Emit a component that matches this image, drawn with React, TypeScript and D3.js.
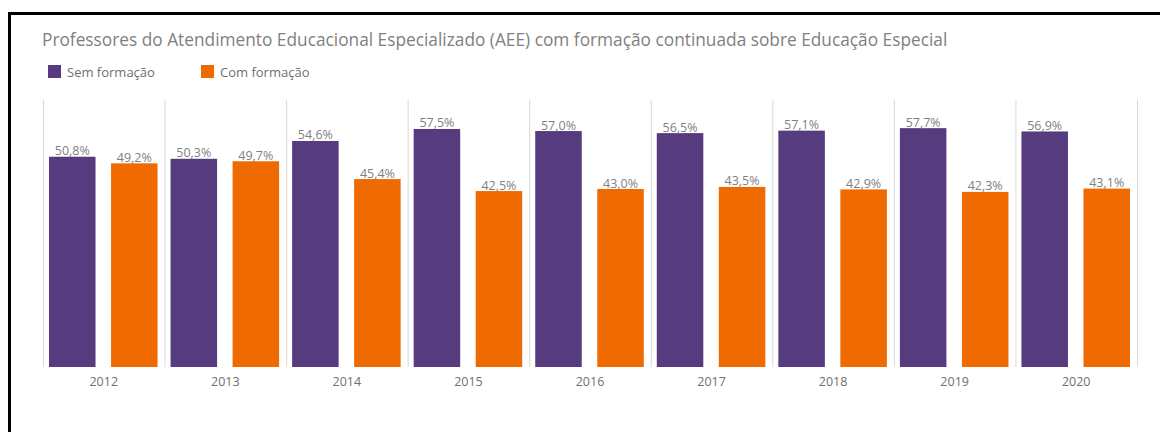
import * as d3 from 'd3';
import { useEffect, useRef } from 'react';

const years = ['2012', '2013', '2014', '2015', '2016', '2017', '2018', '2019', '2020'];
const semFormacao = [50.8, 50.3, 54.6, 57.5, 57.0, 56.5, 57.1, 57.7, 56.9];
const comFormacao = [49.2, 49.7, 45.4, 42.5, 43.0, 43.5, 42.9, 42.3, 43.1];
const seriesNames = ['Sem formação', 'Com formação'];
const colors = ['#563c7e', '#ef6a00'];
const title = 'Professores do Atendimento Educacional Especializado (AEE) com formação continuada sobre Educação Especial';

const width = 1160, height = 432;
const font = "'Open Sans', 'DejaVu Sans', sans-serif";

const App = () => {
  const svgRef = useRef<SVGSVGElement>(null);

  useEffect(() => {
    const svg = d3.select(svgRef.current);
    svg.selectAll('*').remove();

    svg.append('rect').attr('width', width).attr('height', height).attr('fill', '#fff');
    // black frame (cut off at right/bottom)
    svg.append('rect').attr('x', 9.5).attr('y', 13.5).attr('width', 1200).attr('height', 500)
      .attr('fill', 'none').attr('stroke', '#000').attr('stroke-width', 3);

    svg.append('text').attr('x', 42).attr('y', 46).attr('fill', '#7f7f7f')
      .style('font-family', font).style('font-size', '17.3px').text(title);

    // legend
    const legendX = [48, 201];
    seriesNames.forEach((n, i) => {
      svg.append('rect').attr('x', legendX[i]).attr('y', 65).attr('width', 13).attr('height', 13).attr('fill', colors[i]);
      svg.append('text').attr('x', legendX[i] + 19).attr('y', 76.5).attr('fill', '#6f6f6f')
        .style('font-family', font).style('font-size', '13px').text(n);
    });

    const x0 = d3.scaleBand().domain(years).range([43, 1137]).paddingInner(0).paddingOuter(0);
    const x1 = d3.scaleBand().domain(['0', '1']).range([6, x0.bandwidth() - 7]).paddingInner(0.25).paddingOuter(0);
    const y = d3.scaleLinear().domain([0, 64.5]).range([367, 100]);

    // separators
    const seps = years.map(d => x0(d)!).concat([x0.range()[1]]);
    svg.append('g').selectAll('line').data(seps).join('line')
      .attr('x1', d => d + 0.5).attr('x2', d => d + 0.5).attr('y1', 100).attr('y2', 367)
      .attr('stroke', '#d9d9d9').attr('stroke-width', 1);

    const fmt = (v: number) => v.toFixed(1).replace('.', ',') + '%';

    years.forEach((yr, i) => {
      [semFormacao[i], comFormacao[i]].forEach((v, s) => {
        const bx = x0(yr)! + x1(String(s))!;
        svg.append('rect').attr('x', bx).attr('y', y(v)).attr('width', x1.bandwidth())
          .attr('height', y(0) - y(v)).attr('fill', colors[s]);
        svg.append('text').attr('x', bx + x1.bandwidth() / 2).attr('y', y(v) - 1.5)
          .attr('text-anchor', 'middle').attr('fill', '#7f7f7f')
          .style('font-family', font).style('font-size', '12.5px').text(fmt(v));
      });
      svg.append('text').attr('x', x0(yr)! + x0.bandwidth() / 2).attr('y', 386)
        .attr('text-anchor', 'middle').attr('fill', '#6f6f6f')
        .style('font-family', font).style('font-size', '12.5px').text(yr);
    });
  }, []);

  return (
    <svg ref={svgRef} width={width} height={height}
      style={{ position: 'absolute', left: 0, top: 0, display: 'block' }}></svg>
  );
};

export default App;
